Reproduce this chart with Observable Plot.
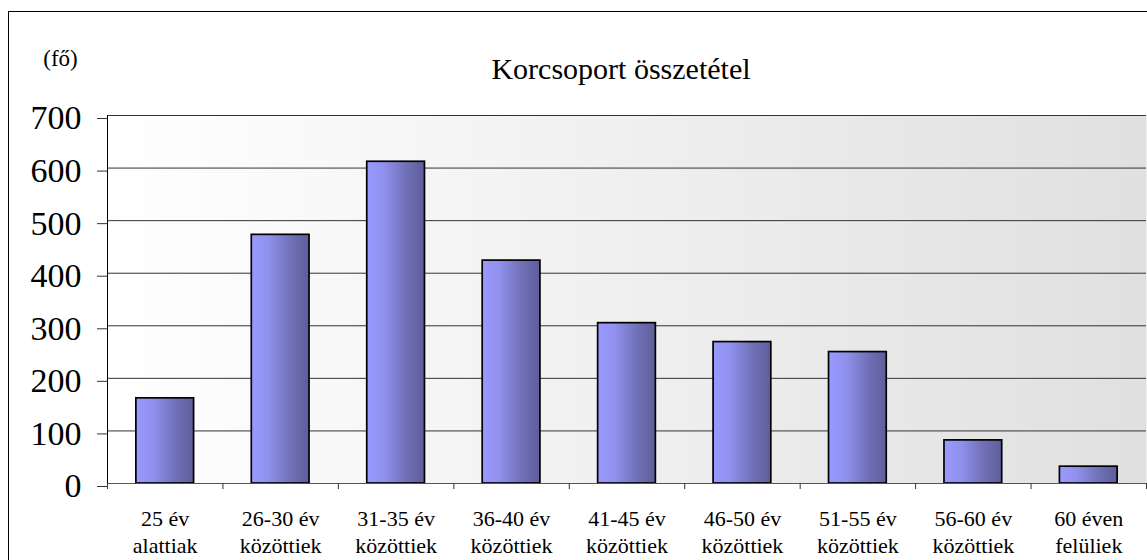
<!DOCTYPE html>
<html>
<head>
<meta charset="utf-8">
<script src="https://cdn.jsdelivr.net/npm/d3@7"></script>
<script src="https://cdn.jsdelivr.net/npm/@observablehq/plot@0.6"></script>
<style>
  html, body { margin: 0; padding: 0; background: #fff; }
  #wrap { position: relative; width: 1147px; height: 560px; overflow: hidden; }
  #border { position: absolute; left: 8px; top: 11px; width: 1300px; height: 700px; border: 1.5px solid #000; box-sizing: border-box; pointer-events: none; }
  #chart { position: absolute; left: 0; top: 0; }
  #chart svg, #chart svg text { font-family: 'Liberation Serif', 'Times New Roman', serif !important; }
</style>
</head>
<body>
<div id="wrap"><div id="border"></div><div id="chart"></div></div>
<script>
const title = "Korcsoport összetétel";
const unitLabel = "(fő)";
const categories = [
  "25 év\nalattiak",
  "26-30 év\nközöttiek",
  "31-35 év\nközöttiek",
  "36-40 év\nközöttiek",
  "41-45 év\nközöttiek",
  "46-50 év\nközöttiek",
  "51-55 év\nközöttiek",
  "56-60 év\nközöttiek",
  "60 éven\nfelüliek"
];
const values = [162, 473, 612, 424, 305, 269, 250, 82, 32];
const yTicks = [0, 100, 200, 300, 400, 500, 600, 700];

const data = categories.map((label, i) => ({i, label, value: values[i]}));
const boundaries = d3.range(categories.length + 1);
const serif = "'Liberation Serif', 'Times New Roman', serif";

function defs() {
  const d = d3.create("svg:defs");
  const bg = d.append("linearGradient").attr("id", "bgGrad").attr("x1", 0).attr("x2", 1).attr("y1", 0).attr("y2", 0);
  bg.append("stop").attr("offset", 0).attr("stop-color", "#ffffff");
  bg.append("stop").attr("offset", 1).attr("stop-color", "#e0e0e0");
  const bar = d.append("linearGradient").attr("id", "barGrad").attr("x1", 0).attr("x2", 1).attr("y1", 0).attr("y2", 0);
  bar.append("stop").attr("offset", 0).attr("stop-color", "#9a9aff");
  bar.append("stop").attr("offset", 0.3).attr("stop-color", "#9090ee");
  bar.append("stop").attr("offset", 0.7).attr("stop-color", "#6f6fb5");
  bar.append("stop").attr("offset", 1).attr("stop-color", "#5e5e9a");
  return d.node();
}

const plot = Plot.plot({
  width: 1147,
  height: 560,
  marginLeft: 107,
  marginRight: 1,
  marginTop: 115,
  marginBottom: 77,
  style: {fontFamily: serif, color: "#000", background: "transparent", overflow: "visible"},
  x: {domain: [0, categories.length], axis: null},
  y: {domain: [0, 700], axis: null},
  marks: [
    defs,
    Plot.frame({fill: "url(#bgGrad)", stroke: null}),
    Plot.ruleY(yTicks.filter(v => v > 0), {stroke: "#333", strokeWidth: 1}),
    Plot.rectY(data, {x1: d => d.i + 0.25, x2: d => d.i + 0.75, y: "value", fill: "url(#barGrad)", stroke: "#000", strokeWidth: 1.7, inset: 0}),
    Plot.ruleX([0], {stroke: "#000"}),
    Plot.ruleY([0], {stroke: "#555", strokeWidth: 1.2}),
    Plot.axisY({ticks: yTicks, tickSize: 10, tickPadding: 16, fontSize: 34, fontFamily: serif, label: null, dy: 3, stroke: "#333"}),
    Plot.axisX({ticks: boundaries, tickSize: 6, tickFormat: () => "", label: null, stroke: "#333"}),
    Plot.text(data, {x: d => d.i + 0.5, y: () => 0, text: "label", lineAnchor: "top", dy: 24, fontSize: 22, fontFamily: serif, lineHeight: 1.2, fill: "#000"}),
    Plot.text([title], {frameAnchor: "top", lineAnchor: "middle", text: d => d, dx: -6, dy: -46, fontSize: 30, fontFamily: serif, fill: "#000"}),
    Plot.text([unitLabel], {frameAnchor: "top-left", lineAnchor: "middle", text: d => d, textAnchor: "middle", dx: -47, dy: -57, fontSize: 23, fontFamily: serif, fill: "#000"})
  ]
});
document.getElementById("chart").appendChild(plot);
</script>
</body>
</html>
